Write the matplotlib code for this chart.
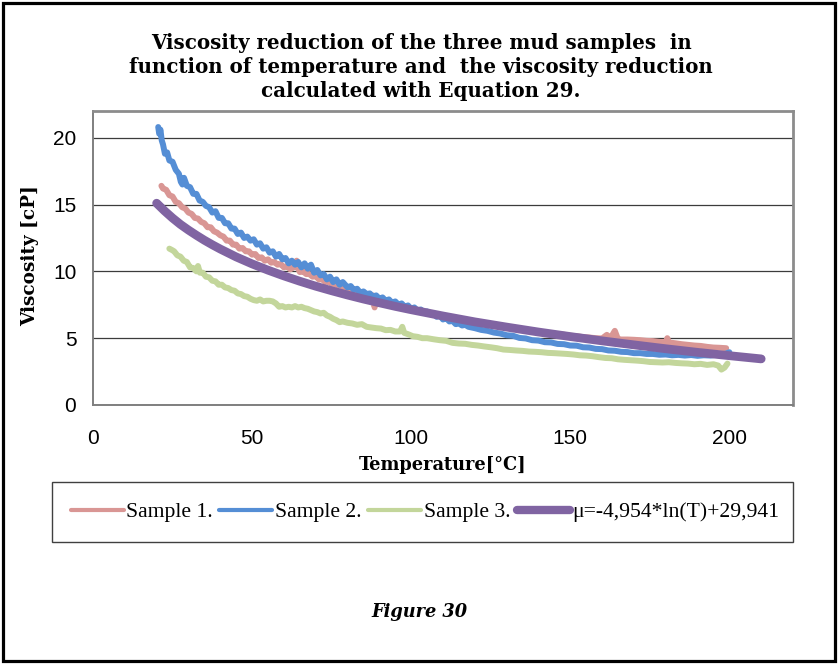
import matplotlib
matplotlib.use("Agg")
import matplotlib.pyplot as plt
from matplotlib.lines import Line2D
from matplotlib.patches import Rectangle

# ---------------- data ----------------
title_lines = ["Viscosity reduction of the three mud samples  in",
               "function of temperature and  the viscosity reduction",
               "calculated with Equation 29."]
x_label = "Temperature[°C]"
y_label = "Viscosity [cP]"
legend_labels = ["Sample 1.", "Sample 2.", "Sample 3.", "μ=-4,954*ln(T)+29,941"]
caption = "Figure 30"
x_ticks = [0, 50, 100, 150, 200]
y_ticks = [0, 5, 10, 15, 20]

s1_T = [21.5, 22, 23, 24, 25, 26, 27, 28, 29, 30, 31, 32, 33, 34, 35, 36, 37, 38, 39, 40,
        41, 42, 43, 44, 45, 46, 47, 48, 49, 50, 51, 52, 53, 54, 55, 56, 57, 58, 59, 60,
        61, 62, 63, 64, 64.5, 65, 66, 67, 68, 69, 70, 71, 72, 73, 74, 75, 76, 77, 78, 79,
        80, 82, 84, 85, 86, 87, 88, 88.5, 89, 90, 91, 92, 93, 94, 95, 96, 97, 98, 100, 102,
        104, 106, 108, 110, 112, 114, 116, 118, 120, 122, 124, 126, 128, 130, 132, 134, 136, 138, 140, 142,
        144, 146, 148, 150, 152, 154, 156, 158, 160, 161.5, 162.5, 164, 165, 166, 168, 170, 172, 174, 176, 178,
        180, 180.5, 181, 183, 185, 187, 189, 191, 193, 195, 197, 199]
s1_V = [16.4, 16.2, 16.1, 15.7, 15.6, 15.2, 15.1, 14.8, 14.7, 14.4, 14.3, 14.0, 13.95, 13.7, 13.6, 13.3, 13.3, 13.0, 12.9, 12.7,
        12.6, 12.3, 12.3, 12.0, 12.0, 11.7, 11.75, 11.5, 11.5, 11.25, 11.3, 11.0, 11.05, 10.8, 10.9, 10.65, 10.7, 10.5, 10.55, 10.3,
        10.4, 10.15, 10.3, 10.8, 10.2, 9.95, 10.0, 9.8, 9.8, 9.6, 9.65, 9.4, 9.4, 9.2, 9.25, 9.05, 9.1, 8.9, 8.95, 8.75,
        8.75, 8.55, 8.4, 8.3, 8.25, 8.1, 8.2, 7.3, 8.0, 7.85, 7.9, 7.75, 7.8, 7.65, 7.7, 7.5, 7.5, 7.35, 7.2, 7.05,
        6.95, 6.85, 6.75, 6.6, 6.55, 6.4, 6.35, 6.25, 6.2, 6.1, 6.05, 5.95, 5.9, 5.82, 5.78, 5.68, 5.62, 5.55, 5.5, 5.42,
        5.38, 5.3, 5.26, 5.18, 5.15, 5.08, 5.05, 5.0, 4.98, 5.25, 4.95, 5.55, 4.92, 4.9, 4.9, 4.88, 4.85, 4.8, 4.78, 4.72,
        4.7, 5.0, 4.68, 4.62, 4.55, 4.5, 4.45, 4.42, 4.35, 4.3, 4.28, 4.25]

s2_T = [20.5, 20.8, 21.2, 21.6, 22.0, 22.6, 23.3, 24.0, 25.0, 26.0, 27.0, 27.6, 28.1, 28.6, 29.5, 30.5, 31.5, 32.5, 33.5, 34.5,
        35.5, 36.5, 37.5, 38.5, 39.5, 40.5, 41.5, 42.5, 43.5, 44.5, 45.5, 46.5, 47.5, 48.5, 49.5, 50.5, 51.5, 52.5, 53.5, 54.5,
        55.5, 56.5, 57.5, 58.5, 59.5, 60.5, 61.5, 62.5, 63.5, 64.5, 65.5, 66.5, 67.5, 68.5, 69.5, 70.5, 71.5, 72.5, 73.5, 74.5,
        75.5, 76.5, 77.5, 78.5, 80, 81, 82, 83, 84, 85, 86, 87, 88, 89, 90, 91, 92, 93, 94, 95,
        96, 97, 98, 99, 100, 101, 102, 103, 104, 105, 106, 107, 108, 109, 110, 111, 112, 113, 114, 115,
        116, 117, 118, 120, 122, 124, 126, 128, 130, 132, 134, 136, 138, 140, 142, 144, 146, 148, 150, 152,
        154, 156, 158, 160, 162, 164, 166, 168, 170, 172, 174, 176, 178, 180, 182, 184, 186, 188, 190, 192,
        194, 196, 198, 199, 200]
s2_V = [20.8, 20.3, 20.6, 19.8, 19.5, 18.8, 18.9, 18.3, 18.2, 17.6, 17.3, 16.7, 16.5, 17.0, 16.4, 16.3, 15.8, 15.8, 15.3, 15.2,
        14.9, 14.8, 14.4, 14.5, 14.0, 14.0, 13.6, 13.6, 13.2, 13.2, 12.8, 12.9, 12.5, 12.6, 12.3, 12.4, 12.0, 12.1, 11.7, 11.8,
        11.4, 11.5, 11.1, 11.3, 10.9, 11.0, 10.6, 10.8, 10.5, 10.7, 10.3, 10.6, 10.2, 10.5, 9.9, 10.1, 9.7, 9.8, 9.4, 9.6,
        9.2, 9.4, 9.0, 9.2, 8.8, 8.9, 8.6, 8.7, 8.4, 8.5, 8.3, 8.35, 8.1, 8.2, 7.95, 8.05, 7.8, 7.9, 7.65, 7.75,
        7.5, 7.6, 7.35, 7.45, 7.2, 7.3, 7.05, 7.15, 6.95, 7.0, 6.8, 6.85, 6.6, 6.7, 6.4, 6.5, 6.25, 6.3, 6.05, 6.1,
        5.95, 6.0, 5.85, 5.75, 5.62, 5.55, 5.42, 5.35, 5.22, 5.18, 5.02, 4.98, 4.85, 4.82, 4.7, 4.68, 4.57, 4.55, 4.45, 4.44,
        4.32, 4.3, 4.2, 4.18, 4.08, 4.06, 3.98, 3.96, 3.88, 3.88, 3.82, 3.82, 3.76, 3.78, 3.72, 3.75, 3.7, 3.74, 3.68, 3.72,
        3.7, 3.76, 3.8, 3.85, 3.95]

s3_T = [24.0, 24.8, 25.5, 26.5, 27.5, 28.5, 29.5, 30.5, 31.5, 32.5, 33.0, 33.6, 34.5, 35.5, 36.5, 37.5, 38.5, 39.5, 40.5, 41.5,
        42.5, 43.5, 44.5, 45.5, 46.5, 47.5, 48.5, 49.5, 50.5, 51.5, 52.5, 53.5, 54.5, 55.5, 56.5, 57.5, 58.5, 59.5, 60.5, 61.5,
        62.5, 63.5, 64.5, 65.5, 66.5, 67.5, 68.5, 69.5, 70.5, 71.5, 72.5, 73.5, 74.5, 75.5, 76.5, 77.5, 78.5, 80, 81.5, 83,
        84.5, 86, 87.5, 89, 90.5, 92, 93.5, 95, 96.5, 97.2, 97.8, 99, 100.5, 102, 103.5, 105, 107, 109, 111, 113,
        115, 117, 119, 121, 123, 125, 127, 129, 131, 133, 135, 137, 139, 141, 143, 145, 147, 149, 151, 153,
        155, 157, 159, 161, 163, 165, 167, 169, 171, 173, 175, 177, 179, 181, 183, 185, 187, 189, 191, 193,
        195, 196.5, 197.5, 198.5, 199.4]
s3_V = [11.7, 11.6, 11.5, 11.2, 11.1, 10.8, 10.7, 10.3, 10.25, 10.0, 10.4, 9.9, 9.9, 9.6, 9.55, 9.3, 9.25, 9.0, 9.0, 8.8,
        8.75, 8.6, 8.55, 8.35, 8.3, 8.15, 8.1, 7.95, 7.85, 7.8, 7.9, 7.75, 7.8, 7.8, 7.75, 7.6, 7.35, 7.4, 7.3, 7.35,
        7.3, 7.4, 7.3, 7.35, 7.25, 7.2, 7.1, 7.0, 6.95, 6.85, 6.9, 6.7, 6.6, 6.45, 6.35, 6.2, 6.25, 6.15, 6.1, 6.0,
        6.05, 5.85, 5.8, 5.75, 5.72, 5.6, 5.62, 5.5, 5.5, 5.85, 5.4, 5.3, 5.15, 5.1, 5.0, 5.0, 4.92, 4.85, 4.8, 4.65,
        4.6, 4.58, 4.5, 4.45, 4.38, 4.32, 4.25, 4.15, 4.12, 4.08, 4.05, 4.0, 3.98, 3.95, 3.9, 3.88, 3.85, 3.82, 3.78, 3.72,
        3.7, 3.65, 3.58, 3.52, 3.5, 3.42, 3.38, 3.35, 3.32, 3.28, 3.22, 3.2, 3.18, 3.2, 3.15, 3.12, 3.1, 3.05, 3.08, 3.0,
        3.05, 2.95, 2.65, 2.8, 3.1]

fit_T = [20, 22.5, 25, 27.5, 30, 32.5, 35, 37.5, 40, 45, 50, 55, 60, 65, 70, 75, 80, 85, 90, 95,
         100, 110, 120, 130, 140, 150, 160, 170, 180, 190, 200, 210]
fit_V = [15.10, 14.52, 13.99, 13.51, 13.09, 12.70, 12.33, 11.99, 11.67, 11.08, 10.56, 10.09, 9.66, 9.26, 8.89, 8.55, 8.23, 7.93, 7.65, 7.38,
         7.13, 6.66, 6.22, 5.83, 5.46, 5.12, 4.80, 4.50, 4.21, 3.94, 3.69, 3.45]

colors = ["#D99694", "#558ED5", "#C3D69B", "#8064A2"]

# ---------------- figure ----------------
W, H = 838, 664
fig = plt.figure(figsize=(W / 100, H / 100), dpi=100)
fig.patch.set_facecolor("white")

def fx(px):
    return px / W

def fy(py):
    return 1 - py / H

ax = fig.add_axes([fx(93), fy(405), fx(793) - fx(93), fy(111) - fy(405)])
ax.set_xlim(0, 220)
ax.set_ylim(0, 22)

lw_data = 4.3
ax.plot(s1_T, s1_V, color=colors[0], lw=lw_data, solid_capstyle="round", solid_joinstyle="round", zorder=3)
ax.plot(s2_T, s2_V, color=colors[1], lw=lw_data, solid_capstyle="round", solid_joinstyle="round", zorder=4)
ax.plot(s3_T, s3_V, color=colors[2], lw=lw_data, solid_capstyle="round", solid_joinstyle="round", zorder=5)
ax.plot(fit_T, fit_V, color=colors[3], lw=6.3, solid_capstyle="round", solid_joinstyle="round", zorder=6)

ax.set_xticks(x_ticks)
ax.set_yticks(y_ticks)
ax.yaxis.grid(True, color="#3c3c3c", lw=0.9)
ax.set_axisbelow(True)
ax.tick_params(length=0, labelsize=15)
ax.tick_params(axis="y", pad=12)
ax.tick_params(axis="x", pad=17)
for lab in ax.get_xticklabels() + ax.get_yticklabels():
    lab.set_fontfamily("Liberation Sans")
for side in ["left", "bottom"]:
    ax.spines[side].set_color("#7f7f7f")
    ax.spines[side].set_linewidth(1.4)
for side in ["top", "right"]:
    ax.spines[side].set_color("#8c8c8c")
    ax.spines[side].set_linewidth(2.0)

# title
for i, line in enumerate(title_lines):
    fig.text(fx(421), fy(43 + 24 * i), line, ha="center", va="center",
             fontfamily="DejaVu Serif", fontweight="bold", fontsize=14.3)

# axis labels
fig.text(fx(443), fy(465), x_label, ha="center", va="center",
         fontfamily="DejaVu Serif", fontweight="bold", fontsize=12.8)
fig.text(fx(30), fy(256), y_label, ha="center", va="center", rotation=90,
         fontfamily="DejaVu Serif", fontweight="bold", fontsize=13.3)

# legend box and legend
fig.patches.append(Rectangle((fx(52), fy(542)), fx(793) - fx(52), fy(482) - fy(542),
                             transform=fig.transFigure, fill=False, edgecolor="#404040", lw=1.0))
handles = [Line2D([], [], color=colors[0], lw=3.0, solid_capstyle="round"),
           Line2D([], [], color=colors[1], lw=3.0, solid_capstyle="round"),
           Line2D([], [], color=colors[2], lw=3.0, solid_capstyle="round"),
           Line2D([], [], color=colors[3], lw=6.0, solid_capstyle="round")]
fig.legend(handles, legend_labels, loc="center", bbox_to_anchor=(fx(425), fy(512)),
           ncol=4, frameon=False, handlelength=2.45, handletextpad=0.12, columnspacing=0.3,
           prop={"family": "Liberation Serif", "size": 15.6})

# caption
fig.text(fx(419), fy(612), caption, ha="center", va="center",
         fontfamily="DejaVu Serif", fontweight="bold", fontstyle="italic", fontsize=12.8)

# outer border
fig.patches.append(Rectangle((fx(3), fy(661)), fx(835) - fx(3), fy(3) - fy(661),
                             transform=fig.transFigure, fill=False, edgecolor="black", lw=2.3))

fig.savefig("out.png", dpi=100)
